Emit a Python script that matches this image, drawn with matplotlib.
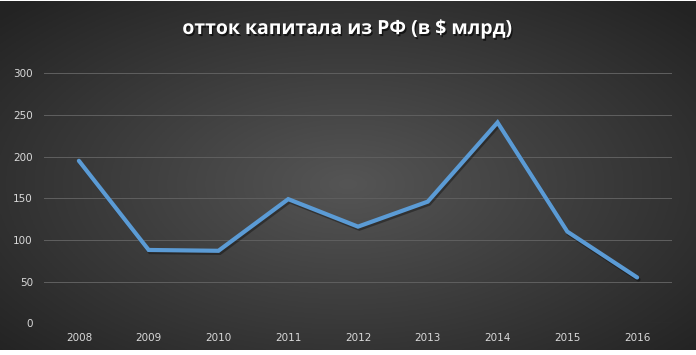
import numpy as np
import matplotlib
matplotlib.use('Agg')
import matplotlib.pyplot as plt
import matplotlib.patheffects as pe

# данные
years = ['2008', '2009', '2010', '2011', '2012', '2013', '2014', '2015', '2016']
ottok = [195, 88, 87, 149, 116, 146, 241, 110, 55]
y_ticks = [0, 50, 100, 150, 200, 250, 300]

fig = plt.figure(figsize=(6.96, 3.55), dpi=100)
fig.patch.set_facecolor('white')

# фон с радиальным градиентом
bg = fig.add_axes([0, 5/355, 1, 349/355])
bg.set_axis_off()
yy, xx = np.mgrid[-1:1:200j, -1:1:400j]
r = np.sqrt((xx * 0.95)**2 + ((yy - 0.05) * 0.9)**2)
r = np.clip(r / 1.3, 0, 1)
c0 = np.array([0x55, 0x55, 0x55]) / 255
c1 = np.array([0x23, 0x23, 0x23]) / 255
img = c0[None, None, :] * (1 - r[..., None]) + c1[None, None, :] * r[..., None]
bg.imshow(img, aspect='auto', extent=[0, 1, 0, 1])
bg.set_xlim(0, 1)
bg.set_ylim(0, 1)

ax = fig.add_axes([44/696, 31.7/355, 628/696, 250/355])
ax.patch.set_alpha(0)
x = np.arange(len(years))
ax.plot(x, ottok, color='#5B9BD5', linewidth=3, solid_capstyle='round',
        solid_joinstyle='miter',
        path_effects=[pe.SimpleLineShadow(offset=(1, -1.5), shadow_color='black', alpha=0.35),
                      pe.Normal()])
ax.set_xlim(-0.5, len(years) - 0.5)
ax.set_ylim(0, 300)
ax.set_yticks(y_ticks)
ax.set_xticks(x)
ax.set_xticklabels(years)
ax.grid(axis='y', color='#5e5e5e', linewidth=0.75)
ax.set_axisbelow(True)
for s in ax.spines.values():
    s.set_visible(False)
ax.tick_params(length=0, colors='#d9d9d9', labelsize=7.5)
ax.tick_params(axis='y', pad=8)
ax.tick_params(axis='x', pad=7)

fig.text(0.5, 1 - 29/355, 'отток капитала из РФ (в $ млрд)', ha='center', va='center',
         color='white', fontsize=14, fontweight='bold', family=['Open Sans', 'DejaVu Sans'],
         path_effects=[pe.withSimplePatchShadow(offset=(1, -1.5), shadow_rgbFace='black', alpha=0.6)])

fig.savefig('out.png', dpi=100, facecolor=fig.get_facecolor())
